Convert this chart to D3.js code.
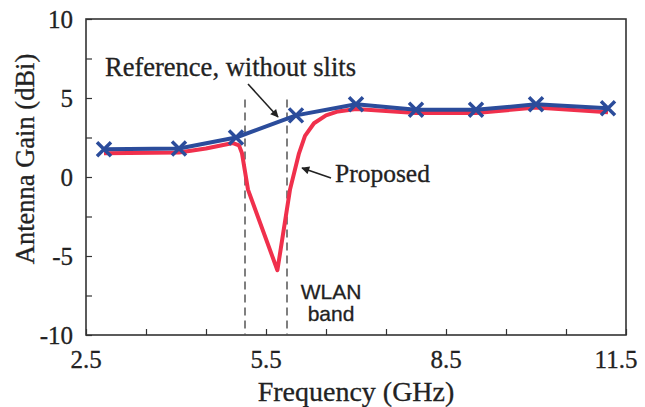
<!DOCTYPE html>
<html>
<head>
<meta charset="utf-8">
<script src="https://cdn.jsdelivr.net/npm/d3@7"></script>
<style>
  body { margin: 0; background: #fff; }
  text { font-family: "Liberation Serif", "Times New Roman", serif; fill: #222; stroke: #222; stroke-width: 0.3; }
</style>
</head>
<body>
<svg id="chart" width="645" height="407"></svg>
<script>
// reference antenna (without slits), measured points with X markers
const refFreq = [2.8, 4.05, 5, 6, 7, 8, 9, 10, 11.2];
const refGain = [1.75, 1.8, 2.5, 3.9, 4.6, 4.25, 4.25, 4.6, 4.35];

// proposed antenna, notch in the WLAN band
const propFreq = [2.8, 4.05, 4.5, 4.95, 5.05, 5.1, 5.2, 5.69, 5.9, 6.05, 6.15, 6.3, 6.5, 6.7, 7, 8, 9, 10, 11.2];
const propGain = [1.5, 1.55, 1.8, 2.15, 2.0, 1.5, -0.8, -5.9, -0.8, 1.5, 2.6, 3.4, 3.9, 4.15, 4.3, 4.05, 4.05, 4.4, 4.1];

// WLAN band edges (GHz)
const wlanEdges = [5.15, 5.85];

const xTicks = [2.5, 3.5, 4.5, 5.5, 6.5, 7.5, 8.5, 9.5, 10.5, 11.5];
const xLabels = [2.5, 5.5, 8.5, 11.5];
const yTicks = [-10, -7.5, -5, -2.5, 0, 2.5, 5, 7.5, 10];
const yLabels = [-10, -5, 0, 5, 10];

const margin = {left: 86, top: 19, right: 19, bottom: 72};
const W = 645, H = 407;
const w = W - margin.left - margin.right;
const h = H - margin.top - margin.bottom;

const svg = d3.select("#chart");
const g = svg.append("g").attr("transform", "translate(" + margin.left + "," + margin.top + ")");

const x = d3.scaleLinear().domain([2.5, 11.5]).range([0, w]);
const y = d3.scaleLinear().domain([-10, 10]).range([h, 0]);

// inward ticks
const xAxis = d3.axisTop(x).tickValues(xTicks).tickSize(6).tickFormat("");
const yAxis = d3.axisRight(y).tickValues(yTicks).tickSize(6).tickFormat("");
g.append("g").attr("transform", "translate(0," + h + ")").call(xAxis)
  .call(s => s.select(".domain").remove())
  .selectAll("line").attr("stroke", "#333").attr("stroke-width", 1.2);
g.append("g").call(yAxis)
  .call(s => s.select(".domain").remove())
  .selectAll("line").attr("stroke", "#333").attr("stroke-width", 1.2);

g.append("rect")
  .attr("width", w).attr("height", h)
  .attr("fill", "none").attr("stroke", "#333").attr("stroke-width", 1.6);

// tick labels (last one pulled in so it stays on the page)
g.selectAll(".xl").data(xLabels).enter().append("text")
  .attr("x", d => Math.min(x(d), w - 10)).attr("y", h + 33)
  .attr("text-anchor", "middle").attr("font-size", 25)
  .text(d => d.toFixed(1));
g.selectAll(".yl").data(yLabels).enter().append("text")
  .attr("x", -13).attr("y", d => y(d)).attr("dy", "0.35em")
  .attr("text-anchor", "end").attr("font-size", 25)
  .text(d => d);

// axis titles
svg.append("text")
  .attr("x", margin.left + x(7.0)).attr("y", 401)
  .attr("text-anchor", "middle").attr("font-size", 28)
  .text("Frequency (GHz)");
svg.append("text")
  .attr("transform", "translate(34,159)rotate(-90)")
  .attr("text-anchor", "middle").attr("font-size", 26.5)
  .text("Antenna Gain (dBi)");

// WLAN band dashed lines
g.selectAll(".wlan").data(wlanEdges).enter().append("line")
  .attr("x1", d => x(d)).attr("x2", d => x(d))
  .attr("y1", y(4.9)).attr("y2", h)
  .attr("stroke", "#555").attr("stroke-width", 1.5)
  .attr("stroke-dasharray", "8,5");

const line = d3.line().x(d => x(d[0])).y(d => y(d[1]));

g.append("path")
  .datum(d3.zip(propFreq, propGain))
  .attr("d", line)
  .attr("fill", "none").attr("stroke", "#f0304c").attr("stroke-width", 4)
  .attr("stroke-linejoin", "round");

g.append("path")
  .datum(d3.zip(refFreq, refGain))
  .attr("d", line)
  .attr("fill", "none").attr("stroke", "#2b4c9b").attr("stroke-width", 4)
  .attr("stroke-linejoin", "round");

// X markers
const m = 7;
g.selectAll(".mk").data(d3.zip(refFreq, refGain)).enter().append("path")
  .attr("d", d => {
    const cx = x(d[0]), cy = y(d[1]);
    return "M" + (cx - m) + "," + (cy - m) + "L" + (cx + m) + "," + (cy + m) +
           "M" + (cx - m) + "," + (cy + m) + "L" + (cx + m) + "," + (cy - m);
  })
  .attr("stroke", "#2b4c9b").attr("stroke-width", 3.5).attr("fill", "none");

// annotations
svg.append("defs").append("marker")
  .attr("id", "arr").attr("viewBox", "0 0 10 10")
  .attr("refX", 9).attr("refY", 5)
  .attr("markerWidth", 10).attr("markerHeight", 8)
  .attr("markerUnits", "userSpaceOnUse")
  .attr("orient", "auto")
  .append("path").attr("d", "M0,0L10,5L0,10z").attr("fill", "#222");

svg.append("text")
  .attr("x", 105).attr("y", 76).attr("font-size", 26.5)
  .text("Reference, without slits");
svg.append("line")
  .attr("x1", 248).attr("y1", 84).attr("x2", 278).attr("y2", 117)
  .attr("stroke", "#222").attr("stroke-width", 1.6).attr("marker-end", "url(#arr)");

svg.append("text")
  .attr("x", 335).attr("y", 182).attr("font-size", 25.5)
  .text("Proposed");
svg.append("line")
  .attr("x1", 331).attr("y1", 178).attr("x2", 302).attr("y2", 168)
  .attr("stroke", "#222").attr("stroke-width", 1.6).attr("marker-end", "url(#arr)");

svg.append("text")
  .attr("x", 331).attr("y", 299).attr("text-anchor", "middle")
  .style("font-family", "'Liberation Sans', Arial, sans-serif").attr("font-size", 21)
  .text("WLAN");
svg.append("text")
  .attr("x", 331).attr("y", 321).attr("text-anchor", "middle")
  .style("font-family", "'Liberation Sans', Arial, sans-serif").attr("font-size", 21)
  .text("band");
</script>
</body>
</html>
